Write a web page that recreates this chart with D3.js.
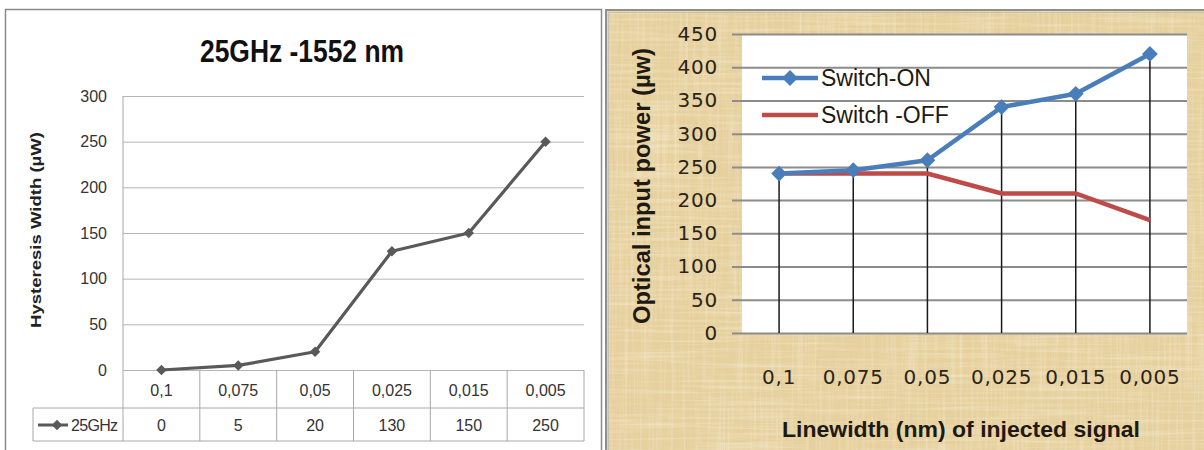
<!DOCTYPE html>
<html>
<head>
<meta charset="utf-8">
<script src="https://cdn.jsdelivr.net/npm/d3@7.9.0/dist/d3.min.js"></script>
<style>
  body { margin: 0; background: #fff; }
  svg { display: block; }
</style>
</head>
<body>
<script>
// data
const categories = ['0,1', '0,075', '0,05', '0,025', '0,015', '0,005'];
const hysteresis25GHz = [0, 5, 20, 130, 150, 250];
const switchOn = [240, 245, 260, 340, 360, 420];
const switchOff = [240, 240, 240, 210, 210, 170];
const leftTicks = [0, 50, 100, 150, 200, 250, 300];
const rightTicks = [0, 50, 100, 150, 200, 250, 300, 350, 400, 450];

const svg = d3.select('body').append('svg')
  .attr('width', 1204)
  .attr('height', 450);

const defs = svg.append('defs');

// papyrus-ish background texture for the right panel
function fiberFilter(id, freq, seed, rgb, a, b) {
  const f = defs.append('filter').attr('id', id)
    .attr('x', 0).attr('y', 0).attr('width', '100%').attr('height', '100%');
  f.append('feTurbulence')
    .attr('type', 'fractalNoise')
    .attr('baseFrequency', freq)
    .attr('numOctaves', 3)
    .attr('seed', seed);
  f.append('feColorMatrix')
    .attr('type', 'matrix')
    .attr('values', `0 0 0 0 ${rgb[0]}  0 0 0 0 ${rgb[1]}  0 0 0 0 ${rgb[2]}  ${a} 0 0 0 ${b}`);
}
fiberFilter('fibH', '0.01 0.35', 4, [0.98, 0.94, 0.80], 2.0, -0.9);
fiberFilter('fibV', '0.35 0.01', 9, [0.98, 0.94, 0.80], 2.0, -0.9);
fiberFilter('blot', '0.012 0.03', 2, [0.78, 0.63, 0.36], 1.8, -0.85);

// ---------- left panel ----------
const left = svg.append('g');

left.append('path')
  .attr('d', 'M5.5,452 V9.5 H601.5 V452')
  .attr('fill', 'none')
  .attr('stroke', '#8a8a8a')
  .attr('stroke-width', 1.5);

left.append('text')
  .attr('x', 302)
  .attr('y', 62)
  .attr('text-anchor', 'middle')
  .attr('font-family', 'Liberation Sans, Arial, sans-serif')
  .attr('font-weight', 'bold')
  .attr('font-size', 32)
  .attr('textLength', 204)
  .attr('lengthAdjust', 'spacingAndGlyphs')
  .attr('fill', '#111')
  .text('25GHz -1552 nm');

const xL = d3.scaleBand().domain(categories).range([123, 584]);
const yL = d3.scaleLinear().domain([0, 300]).range([370, 96]);

const yAxisL = left.append('g')
  .attr('transform', 'translate(123,0)')
  .call(d3.axisLeft(yL).tickValues(leftTicks).tickSize(-461).tickPadding(16));
yAxisL.select('.domain').remove();
yAxisL.selectAll('line').attr('stroke', '#b5b5b5');
yAxisL.selectAll('text')
  .attr('font-family', 'Liberation Sans, Arial, sans-serif')
  .attr('font-size', 16)
  .attr('fill', '#333');

left.append('text')
  .attr('transform', 'translate(41,230) rotate(-90)')
  .attr('text-anchor', 'middle')
  .attr('font-family', 'Liberation Sans, Arial, sans-serif')
  .attr('font-weight', 'bold')
  .attr('font-size', 14)
  .attr('textLength', 196)
  .attr('lengthAdjust', 'spacingAndGlyphs')
  .attr('fill', '#222')
  .text('Hysteresis Width (µW)');

// data table under the axis
const tableTop = 370, rowMid = 408, tableBottom = 441;
const gridColor = '#a8a8a8';
left.append('line')
  .attr('x1', 123).attr('x2', 123).attr('y1', yL(300)).attr('y2', tableBottom)
  .attr('stroke', gridColor);
categories.forEach(c => {
  left.append('line')
    .attr('x1', xL(c) + xL.bandwidth()).attr('x2', xL(c) + xL.bandwidth())
    .attr('y1', tableTop).attr('y2', tableBottom)
    .attr('stroke', gridColor);
});
left.append('line').attr('x1', 33).attr('x2', 584).attr('y1', rowMid).attr('y2', rowMid).attr('stroke', gridColor);
left.append('line').attr('x1', 33).attr('x2', 584).attr('y1', tableBottom).attr('y2', tableBottom).attr('stroke', gridColor);
left.append('line').attr('x1', 33).attr('x2', 33).attr('y1', rowMid).attr('y2', tableBottom).attr('stroke', gridColor);

const cellFont = sel => sel
  .attr('font-family', 'Liberation Sans, Arial, sans-serif')
  .attr('font-size', 16)
  .attr('fill', '#333');

categories.forEach((c, i) => {
  left.append('text')
    .attr('x', xL(c) + xL.bandwidth() / 2)
    .attr('y', 395.5)
    .attr('text-anchor', 'middle')
    .call(cellFont)
    .text(c);
  left.append('text')
    .attr('x', xL(c) + xL.bandwidth() / 2)
    .attr('y', 431)
    .attr('text-anchor', 'middle')
    .call(cellFont)
    .text(hysteresis25GHz[i]);
});

const greyLine = '#595959';
const diamondL = d3.symbol().type(d3.symbolSquare).size(55);

// legend key inside the table
left.append('line')
  .attr('x1', 38).attr('x2', 68).attr('y1', 425).attr('y2', 425)
  .attr('stroke', greyLine).attr('stroke-width', 3);
left.append('path')
  .attr('d', diamondL())
  .attr('transform', 'translate(57,425) rotate(45)')
  .attr('fill', greyLine);
left.append('text')
  .attr('x', 71).attr('y', 431)
  .call(cellFont)
  .attr('textLength', 47)
  .text('25GHz');

const lineL = d3.line()
  .x((d, i) => xL(categories[i]) + xL.bandwidth() / 2)
  .y(d => yL(d));

left.append('path')
  .datum(hysteresis25GHz)
  .attr('d', lineL)
  .attr('fill', 'none')
  .attr('stroke', greyLine)
  .attr('stroke-width', 3.2)
  .attr('stroke-linejoin', 'round');

left.selectAll('.mk')
  .data(hysteresis25GHz)
  .join('path')
  .attr('class', 'mk')
  .attr('d', diamondL())
  .attr('transform', (d, i) => `translate(${xL(categories[i]) + xL.bandwidth() / 2},${yL(d)}) rotate(45)`)
  .attr('fill', greyLine);

// ---------- right panel ----------
const right = svg.append('g');

right.append('rect')
  .attr('x', 605).attr('y', 9).attr('width', 599).attr('height', 445)
  .attr('fill', '#e6d09e');
right.append('rect')
  .attr('x', 605).attr('y', 9).attr('width', 599).attr('height', 445)
  .attr('filter', 'url(#blot)').attr('opacity', 0.3);
right.append('rect')
  .attr('x', 605).attr('y', 9).attr('width', 599).attr('height', 445)
  .attr('filter', 'url(#fibH)').attr('opacity', 0.4);
right.append('rect')
  .attr('x', 605).attr('y', 9).attr('width', 599).attr('height', 445)
  .attr('filter', 'url(#fibV)').attr('opacity', 0.35);
right.append('path')
  .attr('d', 'M606,452 V10 H1204')
  .attr('fill', 'none')
  .attr('stroke', '#8f8f8f')
  .attr('stroke-width', 2);
right.append('path')
  .attr('d', 'M608.5,452 V12.5 H1204')
  .attr('fill', 'none')
  .attr('stroke', '#c9c2b0')
  .attr('stroke-width', 1);

const xR = d3.scaleBand().domain(categories).range([742, 1187]);
const yR = d3.scaleLinear().domain([0, 450]).range([333, 34]);
const cx = c => xR(c) + xR.bandwidth() / 2;

right.append('rect')
  .attr('x', 742).attr('y', yR(450))
  .attr('width', 1187 - 742).attr('height', yR(0) - yR(450))
  .attr('fill', '#fff');

const tickFont = sel => sel
  .attr('font-family', 'DejaVu Sans, Verdana, sans-serif')
  .attr('font-size', 20)
  .attr('letter-spacing', 0.8)
  .attr('fill', '#2a2416');

const yAxisR = right.append('g')
  .attr('transform', 'translate(742,0)')
  .call(d3.axisLeft(yR).tickValues(rightTicks).tickSize(-445).tickPadding(24));
yAxisR.select('.domain').remove();
yAxisR.selectAll('line')
  .attr('x1', -10)
  .attr('stroke', '#8c8c8c')
  .attr('stroke-width', 2);
yAxisR.selectAll('text').call(tickFont);

const xAxisR = right.append('g')
  .attr('transform', 'translate(0,333)')
  .call(d3.axisBottom(xR).tickSize(0));
xAxisR.select('.domain').remove();
xAxisR.selectAll('text')
  .attr('y', 51)
  .attr('dy', null)
  .call(tickFont);

right.append('text')
  .attr('x', 961).attr('y', 437)
  .attr('text-anchor', 'middle')
  .attr('font-family', 'Liberation Sans, Arial, sans-serif')
  .attr('font-weight', 'bold')
  .attr('font-size', 22)
  .attr('textLength', 358)
  .attr('lengthAdjust', 'spacingAndGlyphs')
  .attr('fill', '#1e1a12')
  .text('Linewidth (nm) of injected signal');

right.append('text')
  .attr('transform', 'translate(650,186) rotate(-90)')
  .attr('text-anchor', 'middle')
  .attr('font-family', 'Liberation Sans, Arial, sans-serif')
  .attr('font-weight', 'bold')
  .attr('font-size', 23)
  .attr('textLength', 276)
  .attr('lengthAdjust', 'spacingAndGlyphs')
  .attr('fill', '#1e1a12')
  .text('Optical input power (µw)');

// drop lines from the Switch-ON points to the axis
right.selectAll('.drop')
  .data(switchOn)
  .join('line')
  .attr('class', 'drop')
  .attr('x1', (d, i) => cx(categories[i]))
  .attr('x2', (d, i) => cx(categories[i]))
  .attr('y1', d => yR(d))
  .attr('y2', yR(0))
  .attr('stroke', '#1a1a1a')
  .attr('stroke-width', 1.5);

const blue = '#4a7ebb', red = '#be4b48';
const lineR = d3.line()
  .x((d, i) => cx(categories[i]))
  .y(d => yR(d));

right.append('path')
  .datum(switchOff)
  .attr('d', lineR)
  .attr('fill', 'none')
  .attr('stroke', red)
  .attr('stroke-width', 4.5);

right.append('path')
  .datum(switchOn)
  .attr('d', lineR)
  .attr('fill', 'none')
  .attr('stroke', blue)
  .attr('stroke-width', 4.5)
  .attr('stroke-linejoin', 'round');

const diamondR = d3.symbol().type(d3.symbolSquare).size(125);
right.selectAll('.mkR')
  .data(switchOn)
  .join('path')
  .attr('class', 'mkR')
  .attr('d', diamondR())
  .attr('transform', (d, i) => `translate(${cx(categories[i])},${yR(d)}) rotate(45)`)
  .attr('fill', blue);

// legend
const legend = [
  { name: 'Switch-ON', color: blue, marker: true, y: 78 },
  { name: 'Switch -OFF', color: red, marker: false, y: 115 }
];
legend.forEach(l => {
  right.append('line')
    .attr('x1', 762).attr('x2', 818).attr('y1', l.y).attr('y2', l.y)
    .attr('stroke', l.color).attr('stroke-width', 4.5);
  if (l.marker) {
    right.append('path')
      .attr('d', diamondR())
      .attr('transform', `translate(790,${l.y}) rotate(45)`)
      .attr('fill', l.color);
  }
  right.append('text')
    .attr('x', 821).attr('y', l.y + 8)
    .attr('font-family', 'Liberation Sans, Arial, sans-serif')
    .attr('font-size', 23)
    .attr('fill', '#1e1a12')
    .text(l.name);
});
</script>
</body>
</html>
